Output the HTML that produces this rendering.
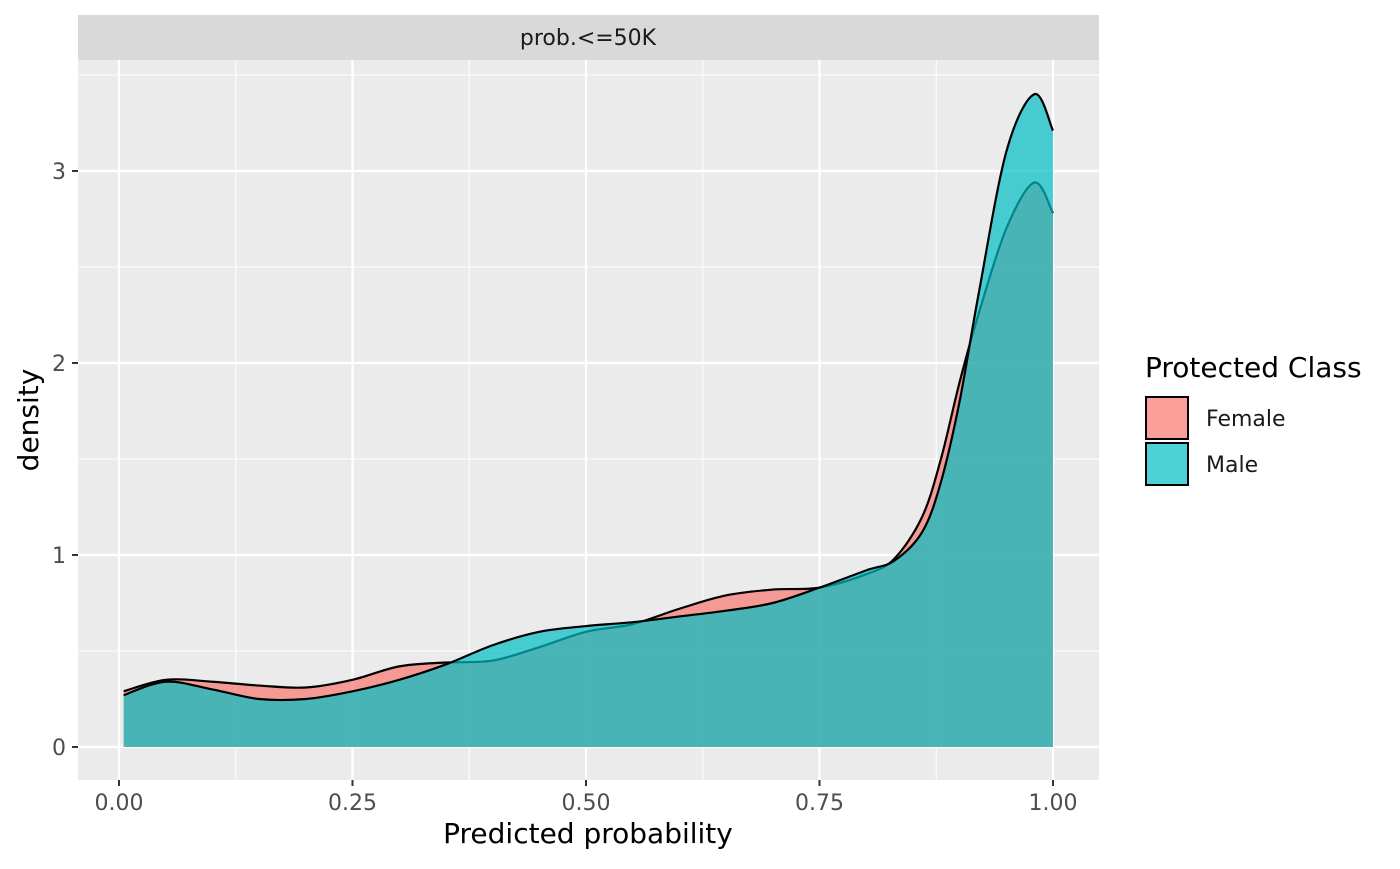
<!DOCTYPE html>
<html><head><meta charset="utf-8"><style>
body{margin:0;background:#fff;font-family:"DejaVu Sans","Liberation Sans",sans-serif}
</style></head><body>
<svg id="chart" width="1400" height="865" xmlns="http://www.w3.org/2000/svg" font-family="DejaVu Sans, Liberation Sans, sans-serif">
<rect x="78" y="60" width="1021" height="720" fill="#EBEBEB"/>
<rect x="78" y="15" width="1021" height="45" fill="#D9D9D9"/>
<text x="588" y="45" font-size="22" text-anchor="middle" fill="#1A1A1A">prob.&lt;=50K</text>
<g id="grid"></g>
<g id="marks"></g>
<g id="axes"></g>
<text x="588" y="843" font-size="28" text-anchor="middle" fill="#000">Predicted probability</text>
<text transform="translate(38,420) rotate(-90)" font-size="28" text-anchor="middle" fill="#000">density</text>
<g>
<text x="1145" y="377" font-size="28" fill="#000">Protected Class</text>
<rect x="1146" y="397" width="42" height="42" fill="#F8766D" fill-opacity="0.7" stroke="#000" stroke-width="2"/>
<text x="1206" y="426" font-size="22" fill="#1A1A1A">Female</text>
<rect x="1146" y="443" width="42" height="42" fill="#00BFC4" fill-opacity="0.7" stroke="#000" stroke-width="2"/>
<text x="1206" y="472" font-size="22" fill="#1A1A1A">Male</text>
</g>
</svg>
<script>
const xs = [0.005,0.05,0.1,0.15,0.2,0.25,0.3,0.35,0.4,0.45,0.5,0.55,0.6,0.65,0.7,0.75,0.8,0.83,0.86,0.88,0.9,0.92,0.95,0.98,1.0];
const female = [0.29,0.35,0.34,0.32,0.31,0.35,0.42,0.44,0.45,0.52,0.6,0.64,0.72,0.79,0.82,0.83,0.9,0.98,1.2,1.5,1.9,2.25,2.7,2.94,2.78];
const male = [0.27,0.34,0.3,0.25,0.25,0.29,0.35,0.43,0.53,0.6,0.63,0.65,0.68,0.71,0.75,0.83,0.92,0.97,1.12,1.38,1.8,2.35,3.1,3.4,3.21];
const xTicks = [0,0.25,0.5,0.75,1.0];
const xTickLabels = ["0.00","0.25","0.50","0.75","1.00"];
const yTicks = [0,1,2,3];
const yTickLabels = ["0","1","2","3"];

const NS="http://www.w3.org/2000/svg";
const X=v=>119+v*934, Y=v=>747-v*192;
function mk(tag,attrs,parent){const e=document.createElementNS(NS,tag);for(const k in attrs)e.setAttribute(k,attrs[k]);parent.appendChild(e);return e;}
const grid=document.getElementById('grid'), marks=document.getElementById('marks'), axes=document.getElementById('axes');
for(let i=0;i<xTicks.length-1;i++){const m=(xTicks[i]+xTicks[i+1])/2;
 const l=mk('line',{x1:X(m),x2:X(m),y1:60,y2:780,stroke:'#fff','stroke-width':1},grid);
 
 }
for(let i=0;i<yTicks.length;i++){const m=yTicks[i]+0.5;
 const l=mk('line',{x1:78,x2:1099,y1:Y(m),y2:Y(m),stroke:'#fff','stroke-width':1},grid);
 
 }
xTicks.forEach((t,i)=>{
 const l=mk('line',{x1:X(t),x2:X(t),y1:60,y2:780,stroke:'#fff','stroke-width':2.2},grid);
 
 
 const tk=mk('line',{x1:X(t),x2:X(t),y1:780,y2:786,stroke:'#333','stroke-width':2},axes);
 
 
 const tx=mk('text',{x:X(t),y:810,'font-size':22,'text-anchor':'middle',fill:'#4D4D4D'},axes);
 tx.textContent=xTickLabels[i];
 
 });
yTicks.forEach((t,i)=>{
 const l=mk('line',{x1:78,x2:1099,y1:Y(t),y2:Y(t),stroke:'#fff','stroke-width':2.2},grid);
 
 
 const tk=mk('line',{x1:72,x2:78,y1:Y(t),y2:Y(t),stroke:'#333','stroke-width':2},axes);
 
 
 const tx=mk('text',{x:66,y:Y(t)+8,'font-size':22,'text-anchor':'end',fill:'#4D4D4D'},axes);
 tx.textContent=yTickLabels[i];
 
 });
function curve(vals){
 const p=xs.map((x,i)=>[X(x),Y(vals[i])]);
 let d=`M${p[0][0]},${p[0][1]}`;
 for(let i=0;i<p.length-1;i++){
  const p0=p[Math.max(i-1,0)],p1=p[i],p2=p[i+1],p3=p[Math.min(i+2,p.length-1)];
  const c1=[p1[0]+(p2[0]-p0[0])/6,p1[1]+(p2[1]-p0[1])/6];
  const c2=[p2[0]-(p3[0]-p1[0])/6,p2[1]-(p3[1]-p1[1])/6];
  d+=` C${c1[0]},${c1[1]} ${c2[0]},${c2[1]} ${p2[0]},${p2[1]}`;}
 return d;}
[[female,'#F8766D','female'],[male,'#00BFC4','male']].forEach(([vals,col,nm])=>{
 const c=curve(vals);
 const a=mk('path',{d:c+` L${X(xs[xs.length-1])},${Y(0)} L${X(xs[0])},${Y(0)} Z`,fill:col,'fill-opacity':0.7,stroke:'none'},marks);
 
 
 const l=mk('path',{d:c,fill:'none',stroke:'#000','stroke-width':2.2},marks);
 
 });
</script>
</body></html>
